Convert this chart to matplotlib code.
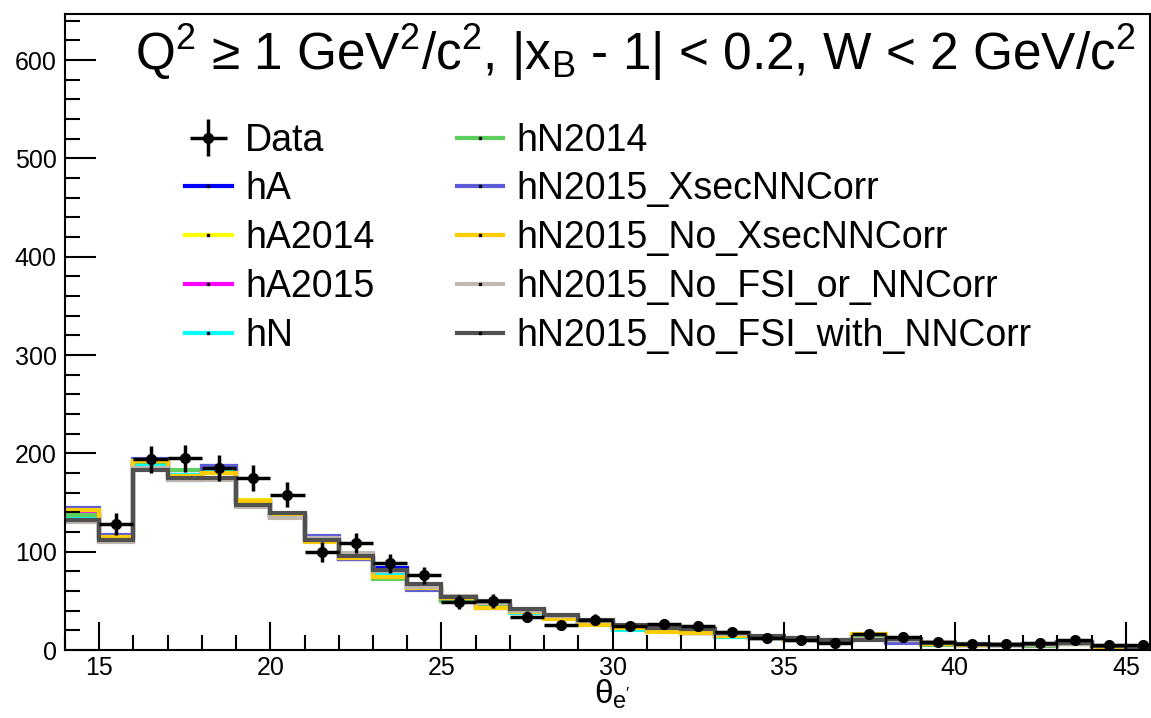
import matplotlib
matplotlib.use("Agg")
import matplotlib.pyplot as plt
import numpy as np

plt.rcParams['font.family'] = ['Liberation Sans', 'DejaVu Sans']
plt.rcParams['mathtext.fontset'] = 'custom'
plt.rcParams['mathtext.rm'] = 'Liberation Sans'
plt.rcParams['mathtext.it'] = 'Liberation Sans'

# bordes de bins en theta_e'
bordes = np.arange(14, 47, 1)

datos = [np.nan, 128, 194, 195, 185, 175, 158, 100, 109, 88, 76, 49, 50, 34, 25, 31,
         24, 26, 24, 18, 12, 10, 7, 16, 13, 8, 6, 6, 7, 10, 5, 5]

hA = [138, 114, 190, 178, 183, 150, 136, 113, 94, 83, 63, 52, 45, 40, 33, 28,
      22, 21, 18, 15, 12, 11, 9, 12, 9, 6, 5, 5, 5, 7, 3, 3]
hA2014 = [141, 115, 191, 177, 180, 153, 137, 112, 93, 74, 64, 50, 44, 39, 33, 26,
          22, 19, 17, 14, 12, 10, 9, 14, 8, 6, 5, 5, 5, 6, 3, 2]
hA2015 = [139, 114, 189, 177, 181, 151, 136, 112, 93, 78, 63, 51, 45, 40, 33, 27,
          22, 19, 17, 14, 12, 10, 9, 13, 8, 6, 5, 5, 5, 8, 3, 2]
hN = [136, 113, 189, 178, 183, 150, 137, 113, 94, 78, 63, 52, 45, 38, 33, 27,
      20, 20, 17, 13, 12, 10, 9, 12, 8, 7, 6, 5, 5, 6, 3, 2]
hN2014 = [137, 114, 191, 183, 187, 151, 135, 112, 93, 72, 64, 50, 46, 40, 33, 28,
          22, 20, 17, 14, 12, 10, 9, 12, 8, 5, 5, 5, 4, 6, 3, 2]
hN2015_xsec = [144, 117, 194, 173, 187, 152, 136, 116, 93, 80, 61, 53, 43, 40, 33, 27,
               22, 19, 17, 14, 12, 11, 9, 11, 7, 6, 5, 5, 5, 8, 3, 3]
hN2015_noxsec = [142, 115, 192, 177, 180, 152, 136, 110, 94, 74, 63, 53, 43, 39, 32, 25,
                 22, 18, 17, 14, 12, 10, 9, 16, 10, 6, 5, 5, 5, 6, 3, 2]
hN2015_nofsi_or = [130, 110, 185, 173, 173, 145, 134, 114, 99, 80, 64, 55, 48, 40, 35, 29,
                   24, 22, 21, 16, 13, 12, 10, 11, 10, 8, 6, 6, 5, 6, 4, 3]
hN2015_nofsi_with = [132, 112, 183, 175, 175, 147, 139, 112, 96, 81, 67, 54, 50, 42, 36, 31,
                     25, 22, 21, 17, 14, 12, 10, 10, 11, 7, 6, 5, 6, 7, 4, 3]

modelos = [
    ("hA", hA, "#0000ff"),
    ("hA2014", hA2014, "#ffff00"),
    ("hA2015", hA2015, "#ff00ff"),
    ("hN", hN, "#00ffff"),
    ("hN2014", hN2014, "#5ccf5c"),
    ("hN2015_XsecNNCorr", hN2015_xsec, "#5c5cd6"),
    ("hN2015_No_XsecNNCorr", hN2015_noxsec, "#ffcc00"),
    ("hN2015_No_FSI_or_NNCorr", hN2015_nofsi_or, "#c0b8b0"),
    ("hN2015_No_FSI_with_NNCorr", hN2015_nofsi_with, "#505050"),
]

fig = plt.figure(figsize=(11.51, 7.18), dpi=100)
ax = fig.add_axes([0.0565, 0.0947, 0.9425, 0.886])

handles = []
for nombre, vals, color in modelos:
    ax.stairs(vals, bordes, color=color, lw=3, baseline=None)
    h, = ax.plot([], [], color=color, lw=3, marker='s', markersize=2,
                 markerfacecolor='k', markeredgecolor='k', label=nombre)
    handles.append(h)

centros = bordes[:-1] + 0.5
datos = np.array(datos, dtype=float)
eb = ax.errorbar(centros, datos, yerr=np.sqrt(datos), xerr=0.5, fmt='o', color='k',
                 markersize=7, elinewidth=2.5, capsize=0, label="Data", zorder=10)

ax.set_xlim(14, 45.7)
ax.set_ylim(0, 647)
ax.set_xticks([15, 20, 25, 30, 35, 40, 45])
ax.set_xticks(np.arange(14, 46, 1), minor=True)
ax.set_yticks(np.arange(0, 601, 100))
ax.set_yticks(np.arange(0, 647, 20), minor=True)
ax.tick_params(axis='both', which='major', direction='in', length=22, width=1.5,
               labelsize=18, top=False, right=False)
ax.tick_params(axis='both', which='minor', direction='in', length=11, width=1.5,
               top=False, right=False)
ax.tick_params(axis='x', which='major', length=20, pad=4)
ax.tick_params(axis='y', which='major', pad=6)
for s in ax.spines.values():
    s.set_linewidth(1.5)

# etiqueta del eje x
fig.text(0.532, 0.02, r"$\theta_{\mathrm{e'}}$", fontsize=24, ha='center', va='baseline')

fig.text(0.552, 0.9025,
         r"Q$^{2}$ ≥ 1 GeV$^{2}$/c$^{2}$, |x$_{\mathrm{B}}$ - 1| < 0.2, W < 2 GeV/c$^{2}$",
         fontsize=37, ha='center', va='baseline')

ax.legend([eb] + handles, ["Data"] + [m[0] for m in modelos], ncol=2, frameon=False,
          loc='upper left', bbox_to_anchor=(0.1106, 0.829), fontsize=27,
          handlelength=1.25, handletextpad=0.35, labelspacing=0.34, columnspacing=2.19,
          borderaxespad=0, borderpad=0)

fig.savefig("out.png", dpi=100)
